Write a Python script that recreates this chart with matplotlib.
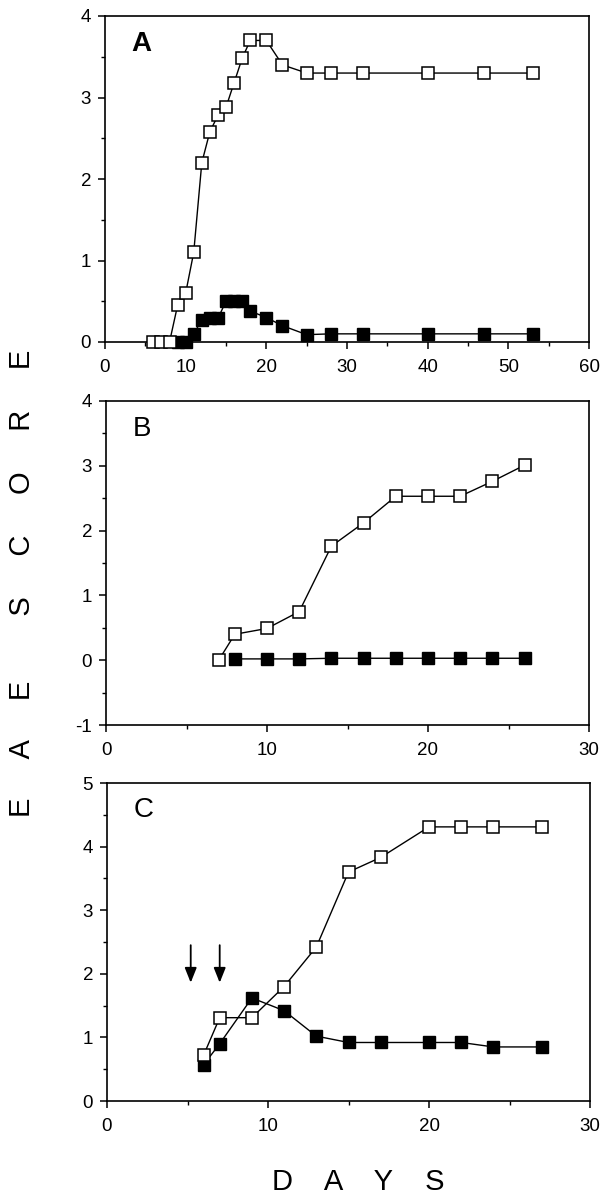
import matplotlib
matplotlib.use("Agg")
import matplotlib.pyplot as plt
from matplotlib.ticker import MultipleLocator

plt.rcParams['font.family'] = ['Liberation Sans', 'DejaVu Sans']
plt.rcParams['axes.unicode_minus'] = False

# ---- Panel A data ----
a_open_days = [6, 7, 8, 9, 10, 11, 12, 13, 14, 15, 16, 17, 18, 20, 22, 25, 28, 32, 40, 47, 53]
a_open_score = [0, 0, 0, 0.45, 0.6, 1.1, 2.2, 2.58, 2.78, 2.88, 3.18, 3.48, 3.7, 3.7, 3.4, 3.3, 3.3, 3.3, 3.3, 3.3, 3.3]
a_fill_days = [9, 10, 11, 12, 13, 14, 15, 16, 17, 18, 20, 22, 25, 28, 32, 40, 47, 53]
a_fill_score = [0, 0, 0.1, 0.27, 0.29, 0.29, 0.5, 0.5, 0.5, 0.38, 0.3, 0.2, 0.09, 0.1, 0.1, 0.1, 0.1, 0.1]

# ---- Panel B data ----
b_open_days = [7, 8, 10, 12, 14, 16, 18, 20, 22, 24, 26]
b_open_score = [0, 0.4, 0.49, 0.75, 1.76, 2.12, 2.53, 2.53, 2.53, 2.76, 3.01]
b_fill_days = [8, 10, 12, 14, 16, 18, 20, 22, 24, 26]
b_fill_score = [0.02, 0.02, 0.02, 0.03, 0.03, 0.03, 0.03, 0.03, 0.03, 0.03]

# ---- Panel C data ----
c_open_days = [6, 7, 9, 11, 13, 15, 17, 20, 22, 24, 27]
c_open_score = [0.72, 1.31, 1.31, 1.8, 2.42, 3.6, 3.83, 4.31, 4.31, 4.31, 4.31]
c_fill_days = [6, 7, 9, 11, 13, 15, 17, 20, 22, 24, 27]
c_fill_score = [0.57, 0.9, 1.62, 1.42, 1.02, 0.92, 0.92, 0.92, 0.92, 0.85, 0.85]
c_arrow_days = [5.2, 7.0]

panels = [
    ("A", a_open_days, a_open_score, a_fill_days, a_fill_score, (0, 60), (0, 4)),
    ("B", b_open_days, b_open_score, b_fill_days, b_fill_score, (0, 30), (-1, 4)),
    ("C", c_open_days, c_open_score, c_fill_days, c_fill_score, (0, 30), (0, 5)),
]

W, H = 613, 1199
fig = plt.figure(figsize=(W / 100, H / 100), dpi=100)

boxes = [(105, 16, 589, 342), (106, 401, 589, 725), (107, 783, 590, 1101)]

axes = []
for (label, od, os_, fd, fs, xl, yl), (l, t, r, b) in zip(panels, boxes):
    ax = fig.add_axes([l / W, 1 - b / H, (r - l) / W, (b - t) / H])
    ax.plot(fd, fs, '-', color='black', lw=1.0, marker='s', ms=9,
            mfc='black', mec='black', mew=1.0, zorder=3, clip_on=False)
    ax.plot(od, os_, '-', color='black', lw=1.0, marker='s', ms=9,
            mfc='white', mec='black', mew=1.1, zorder=4, clip_on=False)
    ax.set_xlim(*xl)
    ax.set_ylim(*yl)
    ax.xaxis.set_major_locator(MultipleLocator(10))
    ax.xaxis.set_minor_locator(MultipleLocator(5))
    ax.yaxis.set_major_locator(MultipleLocator(1))
    ax.yaxis.set_minor_locator(MultipleLocator(0.5))
    ax.tick_params(which='major', direction='out', length=5, width=1.1,
                   labelsize=13.5, pad=5, top=False, right=False)
    ax.tick_params(which='minor', direction='out', length=3, width=1.0,
                   top=False, right=False)
    ax.tick_params(axis='x', pad=7)
    for s in ax.spines.values():
        s.set_linewidth(1.2)
    ax.text(0.055, 0.955, label, transform=ax.transAxes, fontsize=20,
            fontweight='bold' if label == "A" else 'normal', va='top', ha='left')
    axes.append(ax)

axC = axes[2]
for d in c_arrow_days:
    axC.annotate('', xy=(d, 1.86), xytext=(d, 2.45),
                 arrowprops=dict(arrowstyle='-|>,head_length=0.9,head_width=0.36',
                                 color='black', lw=1.3, shrinkA=0, shrinkB=0))

fig.text(0.584, 1 - 1182 / H, "D    A    Y    S", fontsize=21,
         ha='center', va='center')
fig.text(22 / W, 1 - 583 / H, "E     A     E        S     C     O     R     E",
         fontsize=21, rotation=90, ha='center', va='center')

fig.savefig("out.png", dpi=100)
